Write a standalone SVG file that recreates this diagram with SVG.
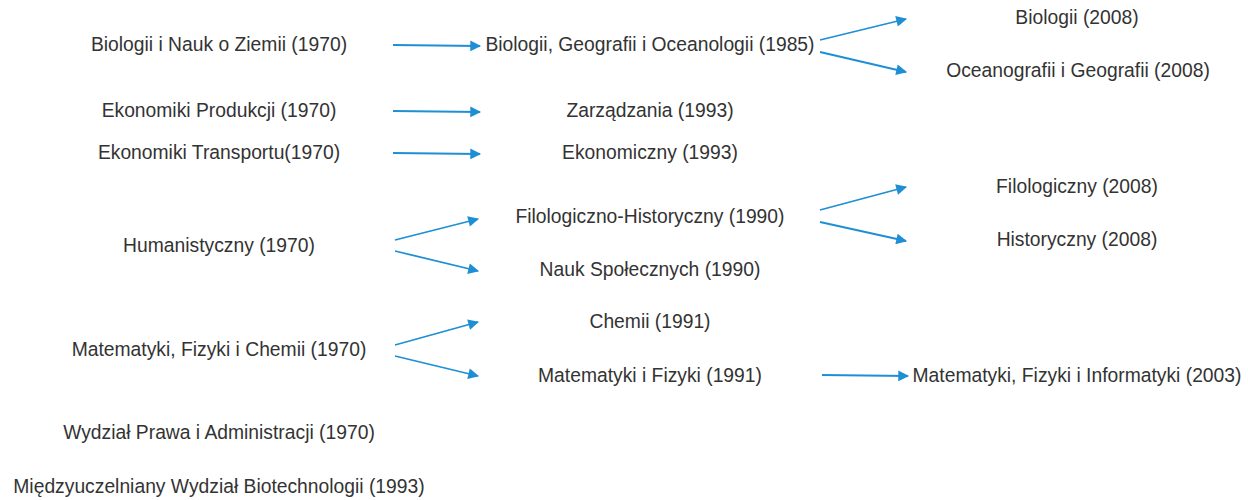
<svg xmlns="http://www.w3.org/2000/svg" width="1248" height="500" viewBox="0 0 1248 500">
<style>
text{font-family:"Liberation Sans",Arial,sans-serif;font-size:19.3px;fill:#333;text-anchor:middle;dominant-baseline:central}
.c line{stroke:#1e8fd5;stroke-width:1.8;marker-end:url(#a)}
</style>
<defs><marker id="a" viewBox="0 0 10 10" refX="9" refY="5" markerWidth="8" markerHeight="6" markerUnits="strokeWidth" orient="auto"><path d="M0,0L10,5L0,10z" fill="#1e8fd5"/></marker></defs>
<rect width="1248" height="500" fill="#fff"/>
<g id="n1"><text x="219" y="44.5">Biologii i Nauk o Ziemii (1970)</text></g>
<g id="n2"><text x="650" y="44.5">Biologii, Geografii i Oceanologii (1985)</text></g>
<g id="n3"><text x="1077" y="17.5">Biologii (2008)</text></g>
<g id="n4"><text x="1078" y="70.5">Oceanografii i Geografii (2008)</text></g>
<g id="n5"><text x="219" y="110.5">Ekonomiki Produkcji (1970)</text></g>
<g id="n6"><text x="650" y="110.5">Zarządzania (1993)</text></g>
<g id="n7"><text x="219" y="152.5">Ekonomiki Transportu(1970)</text></g>
<g id="n8"><text x="650" y="152.5">Ekonomiczny (1993)</text></g>
<g id="n9"><text x="650" y="216.5">Filologiczno-Historyczny (1990)</text></g>
<g id="n10"><text x="1077" y="186.5">Filologiczny (2008)</text></g>
<g id="n11"><text x="1077" y="239.5">Historyczny (2008)</text></g>
<g id="n12"><text x="219" y="245.5">Humanistyczny (1970)</text></g>
<g id="n13"><text x="650" y="269.5">Nauk Społecznych (1990)</text></g>
<g id="n14"><text x="650" y="321.5">Chemii (1991)</text></g>
<g id="n15"><text x="219" y="349.5">Matematyki, Fizyki i Chemii (1970)</text></g>
<g id="n16"><text x="650" y="375.5">Matematyki i Fizyki (1991)</text></g>
<g id="n17"><text x="1077" y="375.5">Matematyki, Fizyki i Informatyki (2003)</text></g>
<g id="n18"><text x="219" y="432.5">Wydział Prawa i Administracji (1970)</text></g>
<g id="n19"><text x="219" y="486.5">Międzyuczelniany Wydział Biotechnologii (1993)</text></g>
<g class="c" id="connectors">
<line x1="393" y1="45" x2="480" y2="46"/>
<line x1="820" y1="40" x2="906" y2="19"/>
<line x1="820" y1="52" x2="906" y2="72"/>
<line x1="393" y1="111" x2="480" y2="112"/>
<line x1="393" y1="153" x2="480" y2="154"/>
<line x1="820" y1="210" x2="906" y2="187"/>
<line x1="820" y1="222" x2="906" y2="241"/>
<line x1="395" y1="240" x2="478" y2="219"/>
<line x1="395" y1="251" x2="478" y2="271"/>
<line x1="395" y1="345" x2="478" y2="322"/>
<line x1="395" y1="356" x2="478" y2="376"/>
<line x1="822" y1="375" x2="908" y2="376"/>
</g>
</svg>
